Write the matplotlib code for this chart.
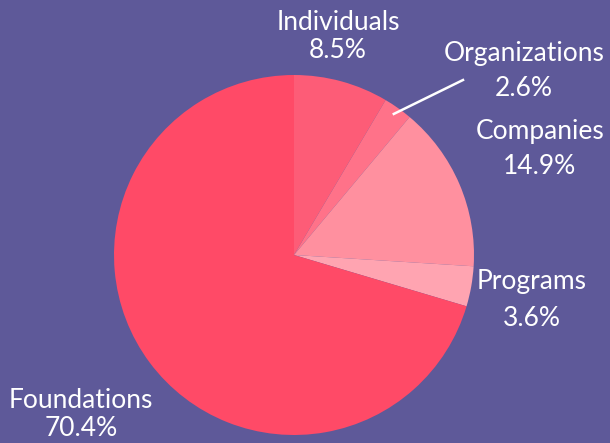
import matplotlib.pyplot as plt
import numpy as np

categories = ["Individuals", "Organizations", "Companies", "Programs", "Foundations"]
shares = [8.5, 2.6, 14.9, 3.6, 70.4]
colors = ["#fd5c77", "#ff7289", "#ff909f", "#ffa4b1", "#ff4a67"]
bg = "#5e5999"

fig = plt.figure(figsize=(6.1, 4.43), dpi=100, facecolor=bg)
ax = fig.add_axes([114 / 610, 8 / 443, 360 / 610, 360 / 443])
ax.set_facecolor(bg)

wedges, _ = ax.pie(shares, colors=colors, startangle=90, counterclock=False,
                   radius=1, wedgeprops=dict(linewidth=0))
ax.set_xlim(-1, 1)
ax.set_ylim(-1, 1)
ax.set_aspect("equal")
ax.axis("off")

# label centres in figure pixels: x, y of name line, y of value line
label_pos = {
    "Individuals": (338, 22, 51),
    "Organizations": (524, 53, 88),
    "Companies": (540, 132, 166),
    "Programs": (532, 282, 318),
    "Foundations": (81, 400, 429),
}

def to_data(px, py):
    return (px - 294) / 180, (255 - py) / 180

font = dict(family=["Lato", "DejaVu Sans"], fontweight="normal", fontsize=19, color="white")
for name, val in zip(categories, shares):
    px, py1, py2 = label_pos[name]
    ax.text(*to_data(px, py1), name, ha="center", va="center", clip_on=False, **font)
    ax.text(*to_data(px, py2), f"{val}%", ha="center", va="center", clip_on=False, **font)

# leader line for the small Organizations slice
w = wedges[1]
mid = np.deg2rad((w.theta1 + w.theta2) / 2)
x0, y0 = 0.96 * np.cos(mid), 0.96 * np.sin(mid)
x1, y1 = to_data(463, 80)
ax.plot([x0, x1], [y0, y1], color="white", lw=1.8, clip_on=False)

fig.savefig("out.png", dpi=100, facecolor=bg)
